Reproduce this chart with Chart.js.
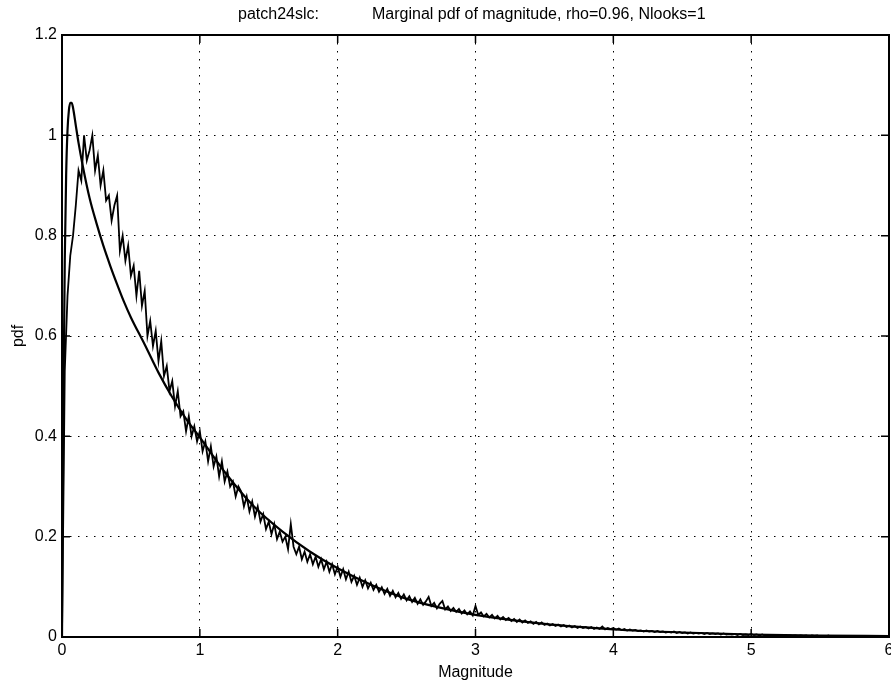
<!DOCTYPE html>
<html>
<head>
<meta charset="utf-8">
<script src="https://cdn.jsdelivr.net/npm/chart.js@4"></script>
<style>
  html, body { margin: 0; padding: 0; background: #fff; }
  #wrap { width: 891px; height: 688px; position: relative; }
</style>
</head>
<body>
<div id="wrap"><canvas id="pdfChart" width="891" height="688"></canvas></div>
<script>
/* Marginal pdf of magnitude: theoretical curve + measured histogram.
   Values read off the reference plot. */

const titleLeft = 'patch24slc:';
const titleRight = 'Marginal pdf of magnitude, rho=0.96, Nlooks=1';
const xTitle = 'Magnitude';
const yTitle = 'pdf';

const xTicks = [0, 1, 2, 3, 4, 5, 6];
const yTicks = [0, 0.2, 0.4, 0.6, 0.8, 1, 1.2];

// theoretical pdf (smooth curve)
const theoryX = [0, 0.01, 0.02, 0.03, 0.04, 0.05, 0.06, 0.07, 0.08, 0.1, 0.12, 0.15, 0.2, 0.25, 0.3, 0.35,
  0.4, 0.45, 0.5, 0.6, 0.7, 0.8, 0.9, 1.0, 1.2, 1.4, 1.6, 1.8, 2.0, 2.25, 2.5, 2.75, 3.0, 3.25, 3.5,
  3.75, 4.0, 4.5, 5.0, 5.5, 6.0];
const theoryY = [0, 0.45, 0.75, 0.92, 1.01, 1.05, 1.065, 1.065, 1.055, 1.02, 0.985, 0.94, 0.875, 0.825, 0.78, 0.74,
  0.703, 0.668, 0.637, 0.583, 0.527, 0.478, 0.435, 0.398, 0.322, 0.258, 0.21, 0.17, 0.137, 0.103, 0.076, 0.058, 0.044, 0.034, 0.026,
  0.02, 0.015, 0.009, 0.005, 0.003, 0.002];

// measured histogram, bins every 0.02 starting at 0
const histStart = 0;
const histStep = 0.02;
const histY = [
  0.00, 0.53, 0.68, 0.76, 0.80, 0.86, 0.93, 0.91, 1.00, 0.95,
  0.97, 1.00, 0.93, 0.96, 0.90, 0.93, 0.87, 0.88, 0.83, 0.86,
  0.88, 0.77, 0.80, 0.75, 0.78, 0.72, 0.74, 0.68, 0.73, 0.66,
  0.69, 0.60, 0.63, 0.58, 0.61, 0.55, 0.59, 0.52, 0.54, 0.49,
  0.51, 0.46, 0.49, 0.44, 0.45, 0.41, 0.44, 0.40, 0.42, 0.39,
  0.41, 0.37, 0.39, 0.35, 0.38, 0.34, 0.36, 0.32, 0.35, 0.31,
  0.33, 0.30, 0.31, 0.28, 0.30, 0.29, 0.26, 0.28, 0.25, 0.27,
  0.24, 0.26, 0.23, 0.245, 0.215, 0.23, 0.205, 0.225, 0.195, 0.21,
  0.19, 0.20, 0.175, 0.225, 0.18, 0.165, 0.18, 0.155, 0.17, 0.15,
  0.165, 0.145, 0.16, 0.14, 0.155, 0.135, 0.15, 0.13, 0.145, 0.125,
  0.14, 0.12, 0.135, 0.115, 0.13, 0.11, 0.122, 0.104, 0.118, 0.1,
  0.113, 0.097, 0.108, 0.094, 0.104, 0.09, 0.099, 0.086, 0.096, 0.082,
  0.092, 0.079, 0.088, 0.076, 0.085, 0.073, 0.081, 0.07, 0.078, 0.066,
  0.075, 0.064, 0.071, 0.08, 0.062, 0.068, 0.057, 0.066, 0.072, 0.055,
  0.061, 0.052, 0.058, 0.05, 0.056, 0.047, 0.053, 0.045, 0.051, 0.043,
  0.062, 0.044, 0.049, 0.041, 0.046, 0.039, 0.044, 0.037, 0.042, 0.035,
  0.04, 0.034, 0.038, 0.032, 0.036, 0.03, 0.035, 0.029, 0.033, 0.028,
  0.031, 0.026, 0.03, 0.025, 0.029, 0.024, 0.027, 0.023, 0.026, 0.022,
  0.025, 0.021, 0.024, 0.02, 0.023, 0.019, 0.022, 0.018, 0.021, 0.018,
  0.02, 0.017, 0.02, 0.016, 0.019, 0.016, 0.021, 0.015, 0.018, 0.016,
  0.018, 0.015, 0.017, 0.014, 0.016, 0.013, 0.015, 0.013, 0.014, 0.012,
  0.013, 0.011, 0.013, 0.011, 0.012, 0.01, 0.012, 0.01, 0.011, 0.009,
  0.01, 0.009, 0.011, 0.008, 0.01, 0.008, 0.009, 0.007, 0.009, 0.007,
  0.008, 0.007, 0.008, 0.006, 0.008, 0.006, 0.007, 0.006, 0.007, 0.005,
  0.007, 0.005, 0.006, 0.005, 0.006, 0.004, 0.006, 0.004, 0.005, 0.004,
  0.006, 0.004, 0.005, 0.003, 0.005, 0.003, 0.004, 0.003, 0.004, 0.003,
  0.004, 0.002, 0.004, 0.002, 0.003, 0.002, 0.003, 0.002, 0.003, 0.002,
  0.003, 0.001, 0.003, 0.002, 0.003, 0.001, 0.002, 0.001, 0.003, 0.001,
  0.002, 0.001, 0.002, 0.001, 0.002, 0.001, 0.002, 0.001, 0.002, 0.001,
  0.002, 0.001, 0.002, 0.001, 0.001, 0.002, 0.001, 0.002, 0.001, 0.001, 0.001
];

const FONT = '"Liberation Sans", Arial, Helvetica, sans-serif';

/** Title text, axis box and MATLAB-style inward ticks. */
const frame = {
  id: 'frame',
  afterDraw(chart) {
    const { ctx, chartArea: a, scales } = chart;
    const tl = 8;
    ctx.save();
    ctx.strokeStyle = '#000';
    ctx.lineWidth = 1.5;
    ctx.beginPath();
    xTicks.forEach((v) => {
      const px = scales.x.getPixelForValue(v);
      ctx.moveTo(px, a.bottom); ctx.lineTo(px, a.bottom - tl);
      ctx.moveTo(px, a.top); ctx.lineTo(px, a.top + tl);
    });
    yTicks.forEach((v) => {
      const py = scales.y.getPixelForValue(v);
      ctx.moveTo(a.left, py); ctx.lineTo(a.left + tl, py);
      ctx.moveTo(a.right, py); ctx.lineTo(a.right - tl, py);
    });
    ctx.stroke();
    ctx.lineWidth = 2;
    ctx.strokeRect(a.left, a.top, a.right - a.left, a.bottom - a.top);

    ctx.fillStyle = '#000';
    ctx.font = '16px ' + FONT;
    ctx.textBaseline = 'alphabetic';
    ctx.textAlign = 'left';
    ctx.fillText(titleLeft, 238, 19);
    ctx.fillText(titleRight, 372, 19);
    ctx.restore();
  },
};

new Chart(document.getElementById('pdfChart'), {
  type: 'line',
  data: {
    datasets: [
      {
        label: 'theory',
        data: theoryX.map((x, i) => ({ x: x, y: theoryY[i] })),
        borderColor: '#000',
        borderWidth: 2.2,
        pointRadius: 0,
        cubicInterpolationMode: 'monotone',
        fill: false,
      },
      {
        label: 'histogram',
        data: histY.map((y, i) => ({ x: histStart + i * histStep, y: y })),
        borderColor: '#000',
        borderWidth: 1.8,
        pointRadius: 0,
        tension: 0,
        fill: false,
      },
    ],
  },
  options: {
    responsive: false,
    animation: false,
    devicePixelRatio: 1,
    layout: { padding: { top: 35, right: 2, left: 0, bottom: 0 } },
    plugins: { legend: { display: false }, tooltip: { enabled: false }, title: { display: false } },
    scales: {
      x: {
        type: 'linear',
        min: 0,
        max: 6,
        afterBuildTicks: (s) => { s.ticks = xTicks.map((v) => ({ value: v })); },
        afterFit: (s) => { s.height = 51; s.paddingLeft = 0; s.paddingRight = 0; },
        grid: { color: '#000', lineWidth: 1, drawTicks: false },
        border: { display: false, dash: [1.5, 6.5] },
        ticks: { color: '#000', padding: 4, maxRotation: 0, callback: (v) => String(v), font: { family: FONT, size: 16 } },
        title: { display: true, text: xTitle, color: '#000', padding: { top: 0, bottom: 6 }, font: { family: FONT, size: 16 } },
      },
      y: {
        type: 'linear',
        min: 0,
        max: 1.2,
        afterBuildTicks: (s) => { s.ticks = yTicks.map((v) => ({ value: v })); },
        afterFit: (s) => { s.width = 62; s.paddingTop = 0; s.paddingBottom = 0; },
        grid: { color: '#000', lineWidth: 1, drawTicks: false },
        border: { display: false, dash: [1.5, 6.5] },
        ticks: { color: '#000', padding: 5, callback: (v) => String(v), font: { family: FONT, size: 16 } },
        title: { display: true, text: yTitle, color: '#000', padding: { top: 9, bottom: 0 }, font: { family: FONT, size: 16 } },
      },
    },
  },
  plugins: [frame],
});
</script>
</body>
</html>
